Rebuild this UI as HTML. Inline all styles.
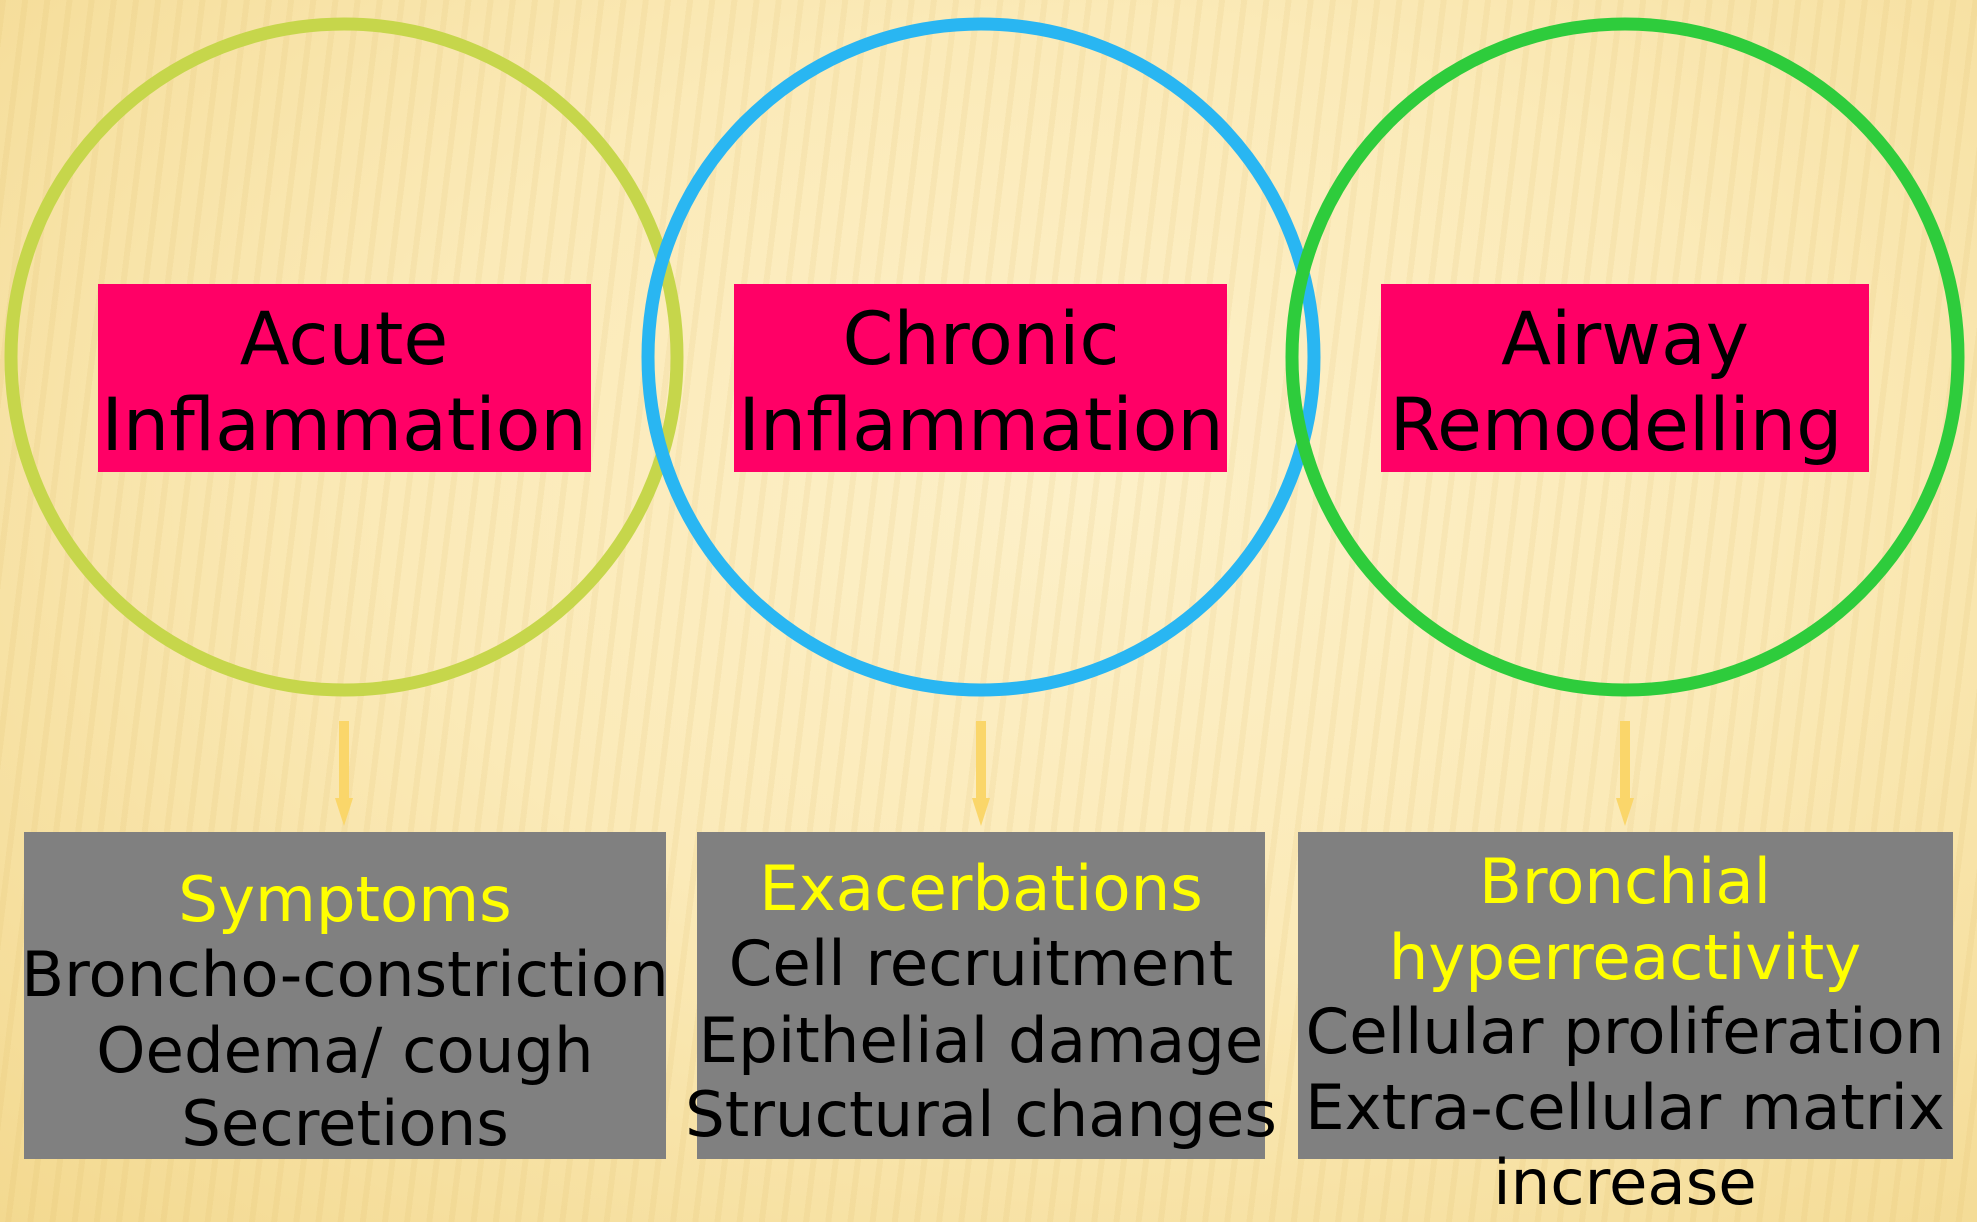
<!DOCTYPE html>
<html><head><meta charset="utf-8">
<style>
html,body{margin:0;padding:0;}
body{width:1977px;height:1222px;overflow:hidden;position:relative;
background:
repeating-linear-gradient(97deg, rgba(210,170,80,0.10) 0px, rgba(210,170,80,0.10) 6px, rgba(255,255,255,0.0) 6px, rgba(255,255,255,0) 22px),
radial-gradient(ellipse at 55% 40%, #fdf0c8 0%, #fbeab8 45%, #f3d990 100%);}
svg{position:absolute;left:0;top:0;}
text{font-family:"DejaVu Sans","Liberation Sans",sans-serif;text-anchor:middle;}
</style></head><body>
<svg width="1977" height="1222" viewBox="0 0 1977 1222">
<circle cx="344" cy="357" r="333" fill="none" stroke="#c6d64b" stroke-width="13"/>
<circle cx="981" cy="357" r="333" fill="none" stroke="#29b6f2" stroke-width="13"/>
<circle cx="1625" cy="357" r="333" fill="none" stroke="#2ecc3c" stroke-width="13"/>

<rect x="98" y="284" width="493" height="188" fill="#ff0066"/>
<rect x="734" y="284" width="493" height="188" fill="#ff0066"/>
<rect x="1381" y="284" width="488" height="188" fill="#ff0066"/>
<g font-size="73" fill="#000">
<text x="344" y="364">Acute</text><text x="344" y="450">Inflammation</text>
<text x="981" y="364">Chronic</text><text x="981" y="450">Inflammation</text>
<text x="1625" y="364">Airway</text><text x="1616" y="450">Remodelling</text>
</g>

<g fill="#fad66a">
<rect x="339" y="721" width="10" height="80"/><polygon points="335,798 353,798 344,826"/>
<rect x="976" y="721" width="10" height="80"/><polygon points="972,798 990,798 981,826"/>
<rect x="1620" y="721" width="10" height="80"/><polygon points="1616,798 1634,798 1625,826"/>
</g>

<rect x="24" y="832" width="642" height="327" fill="#808080"/>
<rect x="697" y="832" width="568" height="327" fill="#808080"/>
<rect x="1298" y="832" width="655" height="327" fill="#808080"/>

<g font-size="62.5">
<text x="345" y="921" fill="#ffff00">Symptoms</text>
<text x="345" y="996" fill="#000">Broncho-constriction</text>
<text x="345" y="1072" fill="#000">Oedema/ cough</text>
<text x="345" y="1145" fill="#000">Secretions</text>

<text x="981" y="910" fill="#ffff00">Exacerbations</text>
<text x="981" y="985" fill="#000">Cell recruitment</text>
<text x="981" y="1062" fill="#000">Epithelial damage</text>
<text x="981" y="1136" fill="#000">Structural changes</text>

<text x="1625" y="903" fill="#ffff00">Bronchial</text>
<text x="1625" y="979" fill="#ffff00">hyperreactivity</text>
<text x="1625" y="1053" fill="#000">Cellular proliferation</text>
<text x="1625" y="1129" fill="#000">Extra-cellular matrix</text>
<text x="1625" y="1204" fill="#000">increase</text>
</g>
</svg>
</body></html>
